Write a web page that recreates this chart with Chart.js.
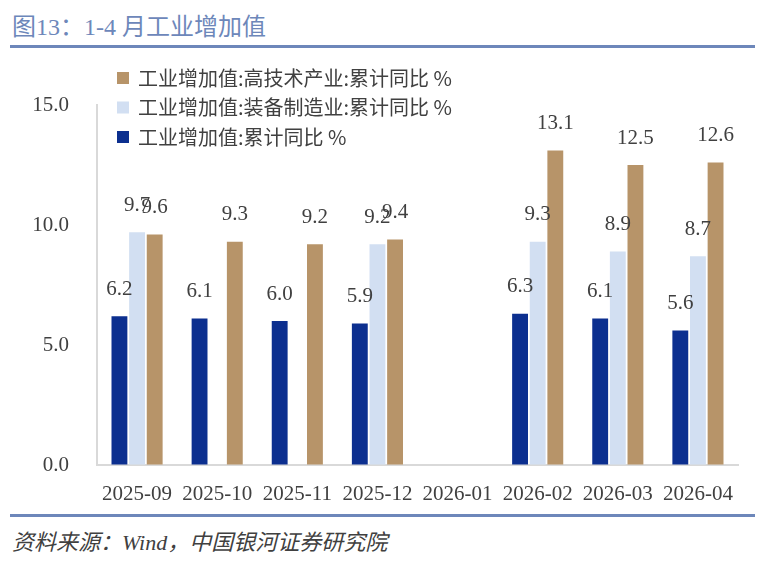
<!DOCTYPE html>
<html>
<head>
<meta charset="utf-8">
<script src="https://cdn.jsdelivr.net/npm/chart.js@4.4.1/dist/chart.umd.min.js"></script>
<style>
  body { margin: 0; width: 771px; height: 568px; background: #fff; position: relative; overflow: hidden;
         font-family: "Liberation Serif", "Noto Sans CJK SC", serif; }
  #title { position: absolute; left: 12px; top: 7px; font-size: 24px; color: #6d87ba; white-space: nowrap; }
  .rule { position: absolute; left: 10px; width: 745px; height: 3px; background: #6d87ba; }
  #src { position: absolute; left: 12px; top: 524px; font-size: 22px; font-style: italic; color: #404040; white-space: nowrap; }
  #wrap { position: absolute; left: 0; top: 50px; width: 771px; height: 462px; }
</style>
</head>
<body>
<div id="title">图13：1-4 月工业增加值</div>
<div class="rule" style="top:45px"></div>
<div id="wrap"><canvas id="chart" width="771" height="462"></canvas></div>
<div class="rule" style="top:514px"></div>
<div id="src">资料来源：Wind，中国银河证券研究院</div>

<script>
const months = ['2025-09', '2025-10', '2025-11', '2025-12', '2026-01', '2026-02', '2026-03', '2026-04'];
const industryTotal = [6.2, 6.1, 6.0, 5.9, null, 6.3, 6.1, 5.6];
const equipmentMfg = [9.7, null, null, 9.2, null, 9.3, 8.9, 8.7];
const highTech = [9.6, 9.3, 9.2, 9.4, null, 13.1, 12.5, 12.6];

const yTicks = [0, 5, 10, 15];

// value labels above each bar
const barLabels = {
  id: 'barLabels',
  afterDatasetsDraw(chart) {
    const ctx = chart.ctx;
    ctx.save();
    ctx.font = '21px "Liberation Serif"';
    ctx.fillStyle = '#404040';
    ctx.textAlign = 'center';
    ctx.textBaseline = 'middle';
    chart.data.datasets.forEach((ds, i) => {
      const meta = chart.getDatasetMeta(i);
      meta.data.forEach((bar, j) => {
        const v = ds.data[j];
        if (v == null) return;
        ctx.fillText(v.toFixed(1), bar.x, bar.y - 27);
      });
    });
    ctx.restore();
  }
};

// vertical legend in the top left of the plot, reversed order
const sideLegend = {
  id: 'sideLegend',
  afterDraw(chart) {
    const ctx = chart.ctx;
    const left = chart.chartArea.left + 20;
    ctx.save();
    ctx.font = '20px "Noto Sans CJK SC"';
    ctx.textBaseline = 'middle';
    const list = chart.data.datasets.slice().reverse();
    list.forEach((ds, k) => {
      const y = 28 + k * 29.5;
      ctx.fillStyle = ds.backgroundColor;
      ctx.fillRect(left, y - 6, 12, 12);
      ctx.fillStyle = '#404040';
      ctx.fillText(ds.label, left + 21, y);
    });
    ctx.restore();
  }
};

const ctx = document.getElementById('chart').getContext('2d');
new Chart(ctx, {
  type: 'bar',
  data: {
    labels: months,
    datasets: [
      { label: '工业增加值:累计同比 %', data: industryTotal, backgroundColor: '#0c2f8f' },
      { label: '工业增加值:装备制造业:累计同比 %', data: equipmentMfg, backgroundColor: '#d2dff2' },
      { label: '工业增加值:高技术产业:累计同比 %', data: highTech, backgroundColor: '#b79469' }
    ]
  },
  options: {
    responsive: false,
    devicePixelRatio: 1,
    animation: false,
    datasets: { bar: { categoryPercentage: 0.66, barPercentage: 0.9 } },
    layout: { padding: { top: 55, right: 33, left: 0, bottom: 0 } },
    plugins: { legend: { display: false }, tooltip: { enabled: false } },
    scales: {
      x: {
        grid: { display: true, drawOnChartArea: false, drawTicks: false },
        border: { display: true, color: '#d9d9d9', width: 2 },
        ticks: { font: { family: 'Liberation Serif', size: 21 }, color: '#404040', padding: 17, maxRotation: 0, autoSkip: false },
        afterFit: s => { s.height = 47; }
      },
      y: {
        min: 0,
        max: 15,
        afterBuildTicks: s => { s.ticks = yTicks.map(v => ({ value: v })); },
        grid: { display: true, drawOnChartArea: false, drawTicks: false },
        border: { display: true, color: '#d9d9d9', width: 2 },
        ticks: { font: { family: 'Liberation Serif', size: 21 }, color: '#404040', padding: 28,
                 callback: v => Number(v).toFixed(1) },
        afterFit: s => { s.width = 97; }
      }
    }
  },
  plugins: [barLabels, sideLegend]
});
</script>
</body>
</html>
